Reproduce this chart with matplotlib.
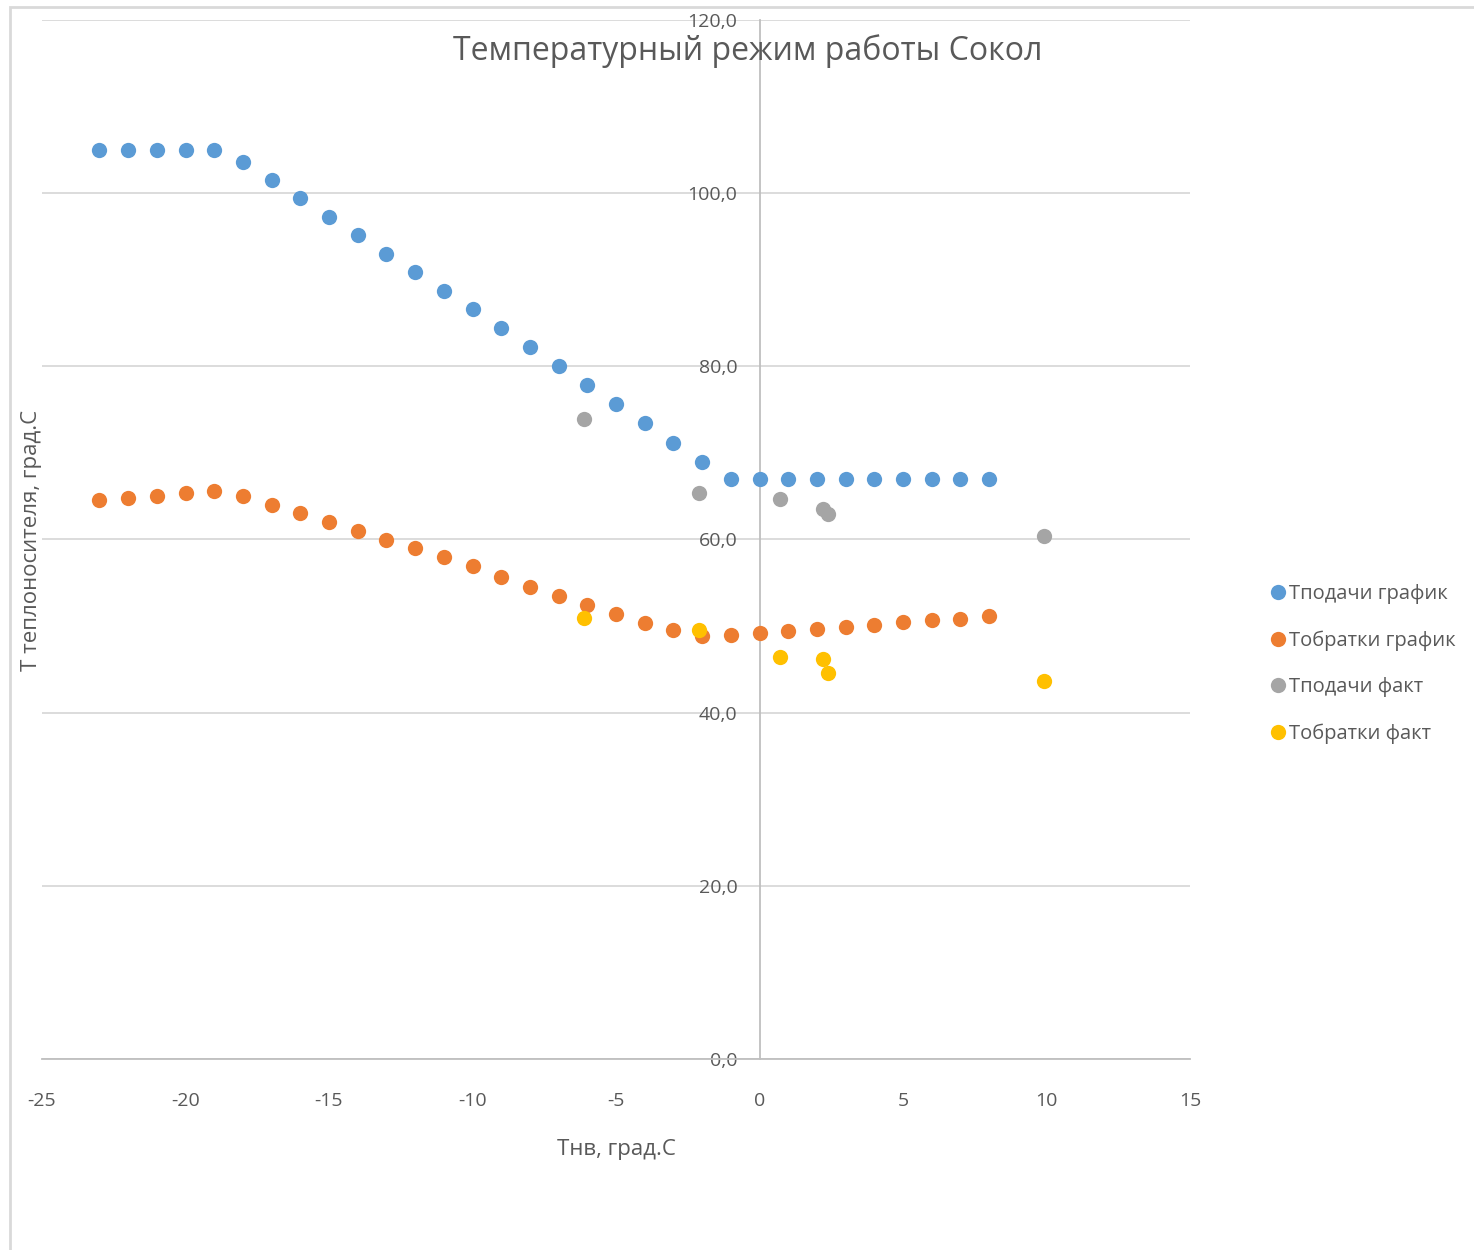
import matplotlib
matplotlib.use('Agg')
import matplotlib.pyplot as plt
from matplotlib.ticker import FuncFormatter
from matplotlib.patches import Rectangle

plt.rcParams['font.family'] = ['Open Sans', 'DejaVu Sans']
plt.rcParams['axes.unicode_minus'] = False

# Данные графика (температурный график)
tnv_grafik = [-23, -22, -21, -20, -19, -18, -17, -16, -15, -14, -13, -12, -11, -10,
              -9, -8, -7, -6, -5, -4, -3, -2, -1, 0, 1, 2, 3, 4, 5, 6, 7, 8]
t_podachi_grafik = [105.0, 105.0, 105.0, 105.0, 105.0, 103.6, 101.5, 99.4, 97.3, 95.2,
                    93.0, 90.9, 88.7, 86.6, 84.4, 82.2, 80.0, 77.8, 75.7, 73.5,
                    71.2, 69.0, 67.0, 67.0, 67.0, 67.0, 67.0, 67.0, 67.0, 67.0, 67.0, 67.0]
t_obratki_grafik = [64.6, 64.8, 65.0, 65.4, 65.6, 65.0, 64.0, 63.1, 62.0, 61.0,
                    59.9, 59.0, 58.0, 56.9, 55.7, 54.5, 53.5, 52.4, 51.4, 50.4,
                    49.5, 48.9, 49.0, 49.2, 49.4, 49.7, 49.9, 50.1, 50.5, 50.7, 50.8, 51.2]

# Фактические замеры
tnv_fakt = [-6.1, -2.1, 0.7, 2.2, 2.4, 9.9]
t_podachi_fakt = [73.9, 65.4, 64.7, 63.5, 62.9, 60.4]
t_obratki_fakt = [50.9, 49.5, 46.4, 46.2, 44.6, 43.7]

fig = plt.figure(figsize=(14.74, 12.5), dpi=100)
ax = fig.add_axes([42 / 1474, 1 - 1059 / 1250, (1190 - 42) / 1474, (1059 - 20) / 1250])

# рамка области диаграммы (как в Excel)
fig.patches.append(Rectangle((10 / 1474, -0.1), 1.2, 1 - 7 / 1250 + 0.1, transform=fig.transFigure,
                             fill=False, edgecolor='#d9d9d9', linewidth=2, zorder=0))

ms = 11
ax.plot(tnv_grafik, t_podachi_grafik, 'o', color='#5B9BD5', ms=ms, mew=0, label='Тподачи график', zorder=3)
ax.plot(tnv_grafik, t_obratki_grafik, 'o', color='#ED7D31', ms=ms, mew=0, label='Тобратки график', zorder=3)
ax.plot(tnv_fakt, t_podachi_fakt, 'o', color='#A5A5A5', ms=ms, mew=0, label='Тподачи факт', zorder=3)
ax.plot(tnv_fakt, t_obratki_fakt, 'o', color='#FFC000', ms=ms, mew=0, label='Тобратки факт', zorder=3)

ax.set_xlim(-25, 15)
ax.set_ylim(0, 120)
ax.set_xticks(range(-25, 16, 5))
ax.set_yticks(range(0, 121, 20))
ax.yaxis.set_major_formatter(FuncFormatter(lambda v, p: f"{v:.1f}".replace('.', ',')))

for s in ['top', 'right']:
    ax.spines[s].set_visible(False)
ax.spines['left'].set_position(('data', 0))
ax.spines['left'].set_color('#bfbfbf')
ax.spines['bottom'].set_color('#bfbfbf')
ax.spines['left'].set_linewidth(1.3)
ax.spines['bottom'].set_linewidth(1.3)
ax.grid(axis='y', color='#d9d9d9', linewidth=1.3)
ax.set_axisbelow(True)
ax.tick_params(length=0, labelsize=14, labelcolor='#595959')
ax.tick_params(axis='x', pad=24)
ax.tick_params(axis='y', pad=16)

fig.text(42 / 1474 + (1190 - 42) / 1474 / 2, 1 - 1150 / 1250, 'Тнв, град.С', ha='center', va='center',
         fontsize=16, color='#595959')
fig.text(32 / 1474, 1 - 540 / 1250, 'Т теплоносителя, град.С', ha='center', va='center',
         rotation=90, fontsize=16, color='#595959')
fig.text(748 / 1474, 1 - 51 / 1250, 'Температурный режим работы Сокол', ha='center', va='center',
         fontsize=23, color='#595959')

leg = fig.legend(loc='center left', bbox_to_anchor=(1264 / 1474, 1 - 664 / 1250), frameon=False,
                 fontsize=14.5, labelcolor='#595959', handlelength=0.6, handletextpad=0.25,
                 labelspacing=1.3, borderaxespad=0)

plt.savefig('out.png', dpi=100)
plt.close()
